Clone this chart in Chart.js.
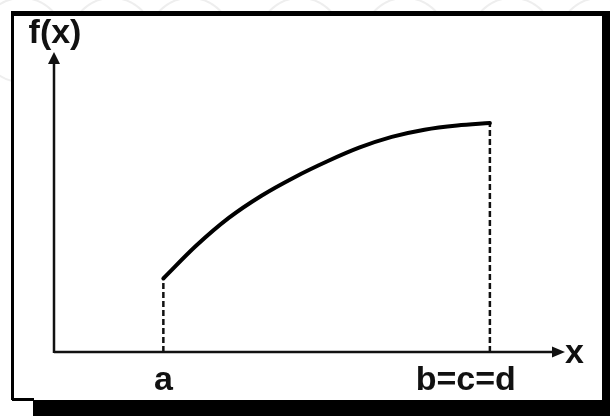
<!DOCTYPE html>
<html>
<head>
<meta charset="utf-8">
<script src="https://cdn.jsdelivr.net/npm/chart.js@4/dist/chart.umd.min.js"></script>
<style>
  html, body { margin: 0; padding: 0; background: #fff; }
  #wrap { position: relative; width: 610px; height: 416px; }
</style>
</head>
<body>
<div id="wrap"><canvas id="c"></canvas></div>
<script>
// ---- data ----
const curveX = [2.14, 2.78, 3.42, 4.06, 4.70, 5.34, 5.97, 6.61, 7.25, 7.89, 8.53];
const curveY = [2.45, 3.54, 4.47, 5.21, 5.82, 6.35, 6.81, 7.17, 7.41, 7.55, 7.63];
const tickValues = [2.14, 8.53];
const tickLabels = ['a', 'b=c=d'];
const xAxisTitle = 'x';
const yAxisTitle = 'f(x)';
const axisMax = 10;

const curveData = curveX.map((x, i) => ({ x: x, y: curveY[i] }));
const dashA = [{ x: tickValues[0], y: 0 }, { x: tickValues[0], y: curveY[0] }];
const dashB = [{ x: tickValues[1], y: 0 }, { x: tickValues[1], y: curveY[curveY.length - 1] }];

const FONT = '"Liberation Sans", Arial, sans-serif';

const framePlugin = {
  id: 'frame',
  beforeDraw(chart) {
    const ctx = chart.ctx;
    ctx.save();
    ctx.fillStyle = '#fff';
    ctx.fillRect(0, 0, 610, 416);
    // faint watermark circles
    ctx.strokeStyle = '#eeeeee';
    ctx.lineWidth = 2;
    [[22, 40], [112, 40], [190, 40], [300, 40], [405, 40], [512, 40], [600, 40]].forEach(([cx, cy]) => {
      ctx.beginPath();
      ctx.arc(cx, cy, 42, 0, Math.PI * 2);
      ctx.stroke();
    });
    // shadow
    ctx.fillStyle = '#000';
    ctx.fillRect(33, 400, 577, 16);
    ctx.fillRect(602, 11, 8, 405);
    // box
    ctx.fillStyle = '#fff';
    ctx.fillRect(13, 14, 589, 386);
    ctx.strokeStyle = '#000';
    ctx.lineWidth = 3;
    ctx.beginPath();
    ctx.moveTo(12.5, 400);
    ctx.lineTo(12.5, 12.5);
    ctx.lineTo(603, 12.5);
    ctx.stroke();
    ctx.fillStyle = '#000';
    ctx.fillRect(12, 11, 591, 5);
    ctx.beginPath();
    ctx.moveTo(12, 399.5);
    ctx.lineTo(34, 399.5);
    ctx.stroke();
    ctx.restore();
  },
  afterDatasetsDraw(chart) {
    const ctx = chart.ctx;
    const xs = chart.scales.x, ys = chart.scales.y;
    const ox = xs.getPixelForValue(0), oy = ys.getPixelForValue(0);
    const xe = xs.getPixelForValue(axisMax), ye = ys.getPixelForValue(axisMax);
    ctx.save();
    ctx.strokeStyle = '#111';
    ctx.fillStyle = '#111';
    ctx.lineWidth = 2.5;
    // x axis
    ctx.beginPath();
    ctx.moveTo(ox, oy);
    ctx.lineTo(xe - 10, oy);
    ctx.stroke();
    ctx.beginPath();
    ctx.moveTo(xe, oy);
    ctx.lineTo(xe - 13, oy - 5.5);
    ctx.lineTo(xe - 13, oy + 5.5);
    ctx.closePath();
    ctx.fill();
    // y axis
    ctx.beginPath();
    ctx.moveTo(ox, oy + 1);
    ctx.lineTo(ox, ye + 10);
    ctx.stroke();
    ctx.beginPath();
    ctx.moveTo(ox, ye);
    ctx.lineTo(ox - 6, ye + 12);
    ctx.lineTo(ox + 6, ye + 12);
    ctx.closePath();
    ctx.fill();

    // titles
    ctx.fillStyle = '#111';
    ctx.textBaseline = 'alphabetic';
    ctx.font = 'bold 34px ' + FONT;
    ctx.textAlign = 'center';
    ctx.fillText(yAxisTitle, ox + 1, ye - 9);
    ctx.textAlign = 'left';
    ctx.fillText(xAxisTitle, xe + 0, oy + 11);

    // tick labels
    const pa = xs.getPixelForValue(tickValues[0]);
    ctx.textAlign = 'center';
    ctx.fillText(tickLabels[0], pa, oy + 38);
    const pb = xs.getPixelForValue(tickValues[1]);
    ctx.textAlign = 'right';
    ctx.fillText(tickLabels[1], pb + 26, oy + 38);
    ctx.restore();
  }
};

new Chart(document.getElementById('c'), {
  type: 'scatter',
  data: {
    datasets: [
      {
        data: curveData, showLine: true, borderColor: '#000', borderWidth: 4,
        pointRadius: 0, cubicInterpolationMode: 'monotone', borderCapStyle: 'round', clip: false
      },
      {
        data: dashA, showLine: true, borderColor: '#111', borderWidth: 2.5,
        borderDash: [6, 3], pointRadius: 0, clip: false
      },
      {
        data: dashB, showLine: true, borderColor: '#111', borderWidth: 2.5,
        borderDash: [6, 3], pointRadius: 0, clip: false
      }
    ]
  },
  options: {
    responsive: true,
    maintainAspectRatio: false,
    devicePixelRatio: 1,
    animation: false,
    events: [],
    layout: { padding: { left: 54, right: 45, top: 52, bottom: 64 } },
    scales: {
      x: { type: 'linear', min: 0, max: axisMax, display: false },
      y: { type: 'linear', min: 0, max: axisMax, display: false }
    },
    plugins: { legend: { display: false }, tooltip: { enabled: false } }
  },
  plugins: [framePlugin]
});
</script>
</body>
</html>
